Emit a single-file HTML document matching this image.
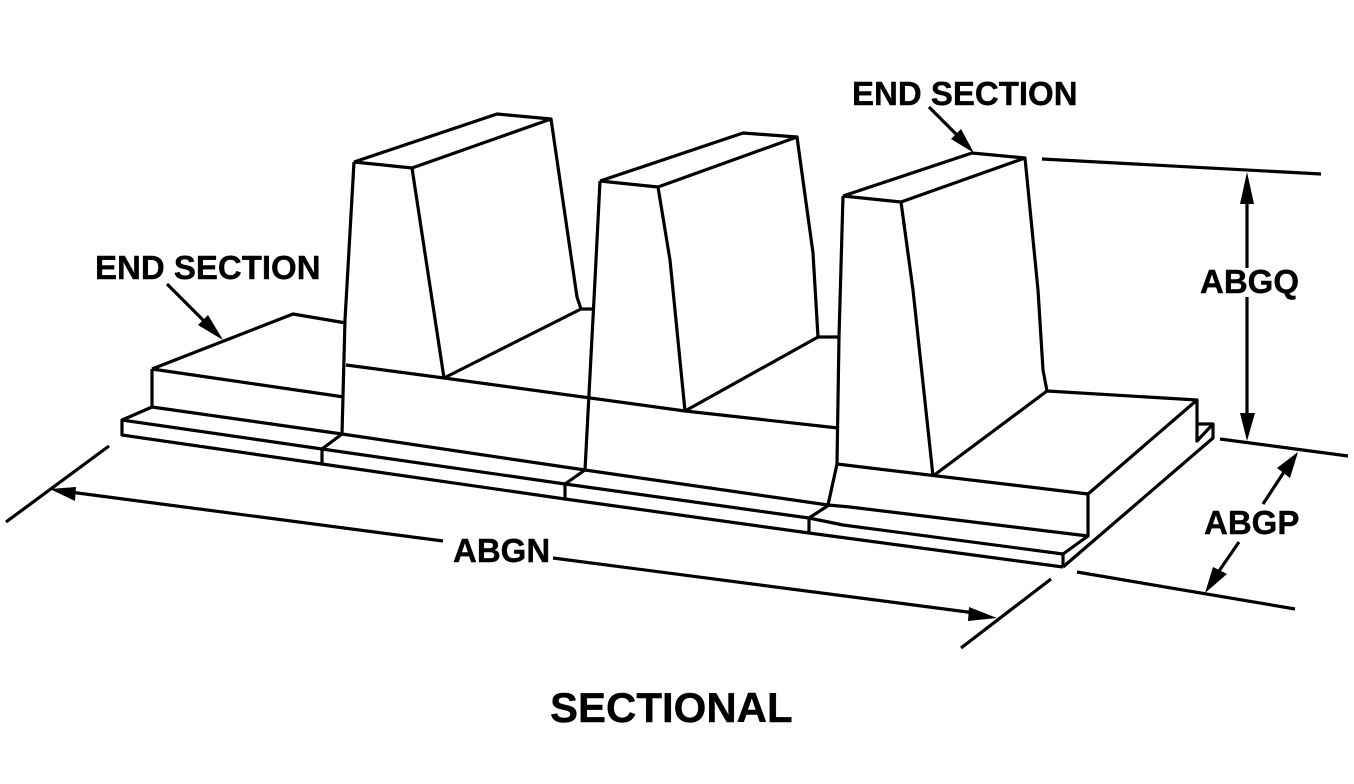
<!DOCTYPE html>
<html><head><meta charset="utf-8">
<style>html,body{margin:0;padding:0;background:#fff}svg{display:block}text{font-family:"Liberation Sans",Arial,sans-serif;font-weight:700;fill:#000}</style>
</head><body>
<svg width="1354" height="784" viewBox="0 0 1354 784" xmlns="http://www.w3.org/2000/svg">
<g fill="none" stroke="#000" stroke-width="3.2" stroke-linejoin="round" stroke-linecap="butt">
<!-- left end section -->
<path d="M152 369L293 314L346 323"/>
<path d="M152 369L344 397"/>
<path d="M152 369V407L342 434"/>
<path d="M152 407L122 420V435L322 464L565 499L809 533L1063 567"/>
<path d="M122 420L322 449L565 484L809 518L843 525L1063 554"/>
<path d="M322 449V464M322 449L342 434"/>
<path d="M565 484V499M565 484L585 470"/>
<path d="M809 518V533M809 518L829 505"/>
<path d="M1063 554V567"/>
<!-- tower 1 -->
<path d="M354 162L497 114L551 119L412 168L354 162"/>
<path d="M354 162L345 320L342 434"/>
<path d="M412 168L444 378"/>
<path d="M551 119L577 297L581 309L594 309"/>
<path d="M581 309L444 378"/>
<path d="M346 365L444 378L685 411L838 428"/>
<path d="M342 434L585 470L828 505L850 507L1088 536"/>
<!-- tower 2 -->
<path d="M600 181L743 133L797 137L658 187L600 181"/>
<path d="M600 181L595 280L585 470"/>
<path d="M658 187L670 260L685 411"/>
<path d="M797 137L813 253L818 337L839 337"/>
<path d="M818 337L685 411"/>
<!-- tower 3 -->
<path d="M843 196L972 153L1025 158L901 202L843 196"/>
<path d="M843 196L839 337L837 464L828 505"/>
<path d="M901 202L913 290L933 476"/>
<path d="M1025 158L1038 290L1043 370L1047 391"/>
<path d="M1047 391L933 476"/>
<path d="M837 464L1088 494"/>
<!-- right plate -->
<path d="M1047 391L1197 400L1088 494V536L1063 554"/>
<path d="M1197 400V441L1213 424H1198M1213 424V438L1063 567"/>
<!-- dimension lines -->
<path d="M1042 159L1321 174"/>
<path d="M1220 439L1348 456"/>
<path d="M1077 572L1295 609"/>
<path d="M109 446L6 522"/>
<path d="M1051 579L961 648"/>
<path d="M1247 185V268M1247 297V420"/>
<path d="M1263 504L1284 472M1239 542L1219 571"/>
<path d="M70 492L443 541M553 558L975 613"/>
<path d="M167 284L205 322"/>
<path d="M929 107L958 136"/>
</g>
<g fill="#000" stroke="none">
<polygon points="1247,172 1240,204 1254,204"/>
<polygon points="1247,441 1240,413 1255,413"/>
<polygon points="1298,452 1277,468 1290,478"/>
<polygon points="1205,593 1213,567 1227,574"/>
<polygon points="50,489 76,487 75,501"/>
<polygon points="997,618 969,607 968,621"/>
<polygon points="223,340 198,325 208,315"/>
<polygon points="974,153 951,139 961,129"/>
</g>
<text x="852" y="105" font-size="33" stroke="#000" stroke-width="0.4">END SECTION</text>
<text x="95" y="279" font-size="33" stroke="#000" stroke-width="0.4">END SECTION</text>
<text x="1200" y="293" font-size="33" stroke="#000" stroke-width="0.4">ABGQ</text>
<text x="1204" y="534" font-size="33" stroke="#000" stroke-width="0.4">ABGP</text>
<text x="453" y="562" font-size="33" stroke="#000" stroke-width="0.4">ABGN</text>
<text x="550" y="722" font-size="42" stroke="#000" stroke-width="0.4">SECTIONAL</text>
</svg>
</body></html>
